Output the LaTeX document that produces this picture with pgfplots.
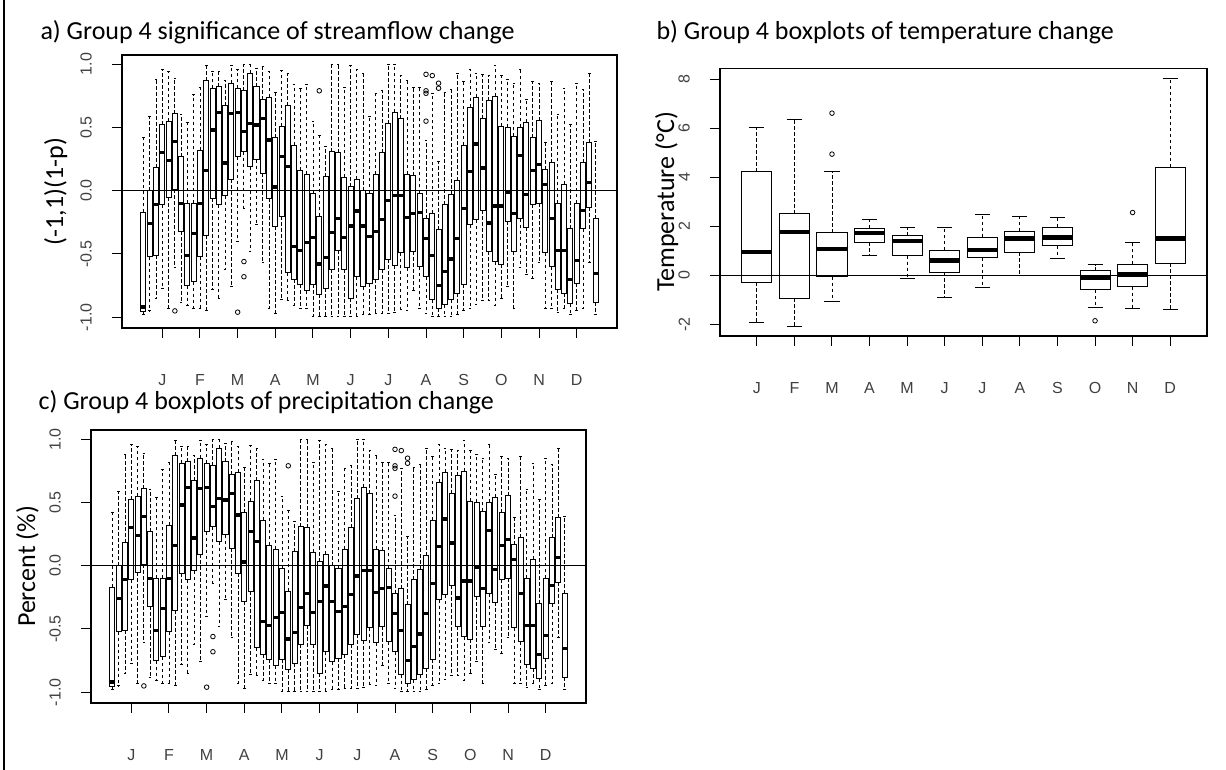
\documentclass[border=0pt]{standalone}
\usepackage{fontspec}
\setmainfont{Carlito}
\newfontfamily\tickfont{Liberation Sans}
\usepackage{pgfplots}
\pgfplotsset{compat=1.18}
\usepgfplotslibrary{statistics}

\tikzset{
  rwhisker/.style={line width=0.9bp, dash pattern=on 3.5bp off 2.5bp},
  rcap/.style={line width=0.9bp, solid},
}
\pgfplotsset{
  boxplot/draw direction=y,
  boxplot/draw/lower whisker/.code={%
    \draw[rwhisker] (boxplot cs:\pgfplotsboxplotvalue{lower quartile}) -- (boxplot cs:\pgfplotsboxplotvalue{lower whisker});
    \draw[rcap] (boxplot whisker cs:\pgfplotsboxplotvalue{lower whisker},0) -- (boxplot whisker cs:\pgfplotsboxplotvalue{lower whisker},1);
  },
  boxplot/draw/upper whisker/.code={%
    \draw[rwhisker] (boxplot cs:\pgfplotsboxplotvalue{upper quartile}) -- (boxplot cs:\pgfplotsboxplotvalue{upper whisker});
    \draw[rcap] (boxplot whisker cs:\pgfplotsboxplotvalue{upper whisker},0) -- (boxplot whisker cs:\pgfplotsboxplotvalue{upper whisker},1);
  },
  rbox/.style={
    scale only axis,
    anchor=south west,
    axis line style={line width=1.1bp},
    tick pos=left,
    tick align=outside,
    major tick length=10bp,
    tick style={line width=1bp, black},
    ticklabel style={font=\tickfont\fontsize{16bp}{16bp}\selectfont, text=black!75, inner sep=0pt},
    yticklabel style={rotate=90, anchor=south},
    xticklabel style={anchor=north},
    yticklabel shift=20bp,
    xticklabel shift=36bp,
    boxplot/draw direction=y,
    boxplot/every box/.style={draw=black, line width=1bp},
  },
}

% one box: position, lower whisker, lower quartile, median, upper quartile, upper whisker
\newcommand{\rb}[6]{\addplot[black, line width=1bp, mark=o, mark size=2.3bp, mark options={solid, line width=0.8bp},
  boxplot prepared={draw direction=y, draw position=#1, lower whisker=#2, lower quartile=#3, median=#4, upper quartile=#5, upper whisker=#6, box extend=0.8, whisker extend=0.4}] coordinates {};}
% same with outliers (7th argument: coordinates)
\newcommand{\rbo}[7]{\addplot[black, line width=1bp, mark=o, mark size=2.3bp, mark options={solid, line width=0.8bp},
  boxplot prepared={draw direction=y, draw position=#1, lower whisker=#2, lower quartile=#3, median=#4, upper quartile=#5, upper whisker=#6, box extend=0.8, whisker extend=0.4}] coordinates {#7};}

\newcommand{\streamboxes}{%
\rb{1}{-0.98}{-0.955}{-0.92}{-0.17}{0.42}
\rb{2}{-0.95}{-0.52}{-0.26}{0.00}{0.59}
\rb{3}{-0.85}{-0.51}{-0.11}{0.18}{0.88}
\rb{4}{-0.77}{-0.11}{0.30}{0.52}{0.96}
\rb{5}{-0.93}{-0.05}{0.24}{0.55}{0.94}
\rbo{6}{-0.61}{0.01}{0.39}{0.61}{0.89}{(0,-0.95)}
\rb{7}{-0.88}{-0.32}{-0.10}{0.27}{0.60}
\rb{8}{-0.91}{-0.75}{-0.51}{-0.10}{0.54}
\rb{9}{-0.93}{-0.72}{-0.34}{-0.10}{0.76}
\rb{10}{-0.93}{-0.52}{-0.10}{0.32}{0.82}
\rb{11}{-0.95}{-0.35}{0.16}{0.87}{0.99}
\rb{12}{-0.78}{-0.06}{0.48}{0.81}{0.94}
\rb{13}{-0.85}{-0.11}{0.62}{0.82}{0.94}
\rb{14}{-0.62}{-0.04}{0.22}{0.67}{0.87}
\rb{15}{-0.76}{0.09}{0.61}{0.85}{0.99}
\rbo{16}{-0.40}{0.27}{0.62}{0.81}{0.955}{(0,-0.96)}
\rbo{17}{-0.14}{0.31}{0.47}{0.79}{1.00}{(0,-0.56) (0,-0.68)}
\rb{18}{-0.48}{0.19}{0.53}{0.93}{0.995}
\rb{19}{-0.27}{0.245}{0.52}{0.82}{0.97}
\rb{20}{-0.57}{0.14}{0.57}{0.72}{0.98}
\rb{21}{-0.93}{-0.06}{0.40}{0.74}{0.94}
\rb{22}{-0.97}{-0.28}{0.03}{0.42}{0.78}
\rb{23}{-0.86}{-0.20}{0.27}{0.51}{0.95}
\rb{24}{-0.87}{-0.65}{0.19}{0.67}{0.93}
\rb{25}{-0.91}{-0.70}{-0.44}{0.36}{0.84}
\rb{26}{-0.93}{-0.74}{-0.47}{0.16}{0.81}
\rb{27}{-0.93}{-0.79}{-0.41}{0.13}{0.84}
\rb{28}{-0.99}{-0.74}{-0.37}{-0.02}{0.55}
\rbo{29}{-0.99}{-0.82}{-0.58}{-0.20}{0.44}{(0,0.79)}
\rb{30}{-0.99}{-0.77}{-0.53}{0.11}{0.35}
\rb{31}{-0.99}{-0.62}{-0.33}{0.31}{1.00}
\rb{32}{-0.99}{-0.47}{-0.22}{0.30}{1.00}
\rb{33}{-0.99}{-0.62}{-0.37}{0.105}{0.82}
\rb{34}{-0.99}{-0.85}{-0.28}{0.03}{0.99}
\rb{35}{-0.99}{-0.68}{-0.16}{0.09}{0.955}
\rb{36}{-0.98}{-0.76}{-0.28}{0.00}{0.93}
\rb{37}{-0.98}{-0.73}{-0.36}{-0.02}{0.59}
\rb{38}{-0.97}{-0.70}{-0.32}{0.13}{0.77}
\rb{39}{-0.97}{-0.62}{-0.23}{0.30}{0.79}
\rb{40}{-0.97}{-0.54}{-0.08}{0.53}{1.00}
\rb{41}{-0.96}{-0.59}{-0.04}{0.62}{1.00}
\rb{42}{-0.94}{-0.49}{-0.04}{0.57}{0.91}
\rb{43}{-0.95}{-0.61}{-0.21}{0.13}{0.87}
\rb{44}{-0.79}{-0.48}{-0.18}{0.12}{0.82}
\rb{45}{-0.93}{-0.60}{-0.17}{-0.02}{0.82}
\rbo{46}{-0.97}{-0.68}{-0.38}{-0.22}{0.40}{(0,0.92) (0,0.79) (0,0.77) (0,0.55)}
\rbo{47}{-0.99}{-0.86}{-0.51}{-0.18}{0.77}{(0,0.91)}
\rbo{48}{-0.99}{-0.93}{-0.75}{-0.31}{0.23}{(0,0.85) (0,0.81)}
\rb{49}{-0.99}{-0.90}{-0.64}{-0.11}{0.78}
\rb{50}{-0.99}{-0.86}{-0.54}{-0.03}{0.80}
\rb{51}{-0.98}{-0.81}{-0.38}{0.08}{0.93}
\rb{52}{-0.95}{-0.74}{-0.14}{0.36}{0.86}
\rb{53}{-0.93}{-0.27}{0.15}{0.66}{0.955}
\rb{54}{-0.90}{-0.23}{0.37}{0.74}{0.93}
\rb{55}{-0.87}{-0.155}{0.18}{0.57}{0.92}
\rb{56}{-0.87}{-0.48}{-0.255}{0.71}{0.91}
\rb{57}{-0.91}{-0.56}{-0.12}{0.745}{0.99}
\rb{58}{-0.85}{-0.58}{-0.12}{0.51}{0.91}
\rb{59}{-0.76}{-0.24}{-0.01}{0.50}{0.88}
\rb{60}{-0.93}{-0.48}{-0.18}{0.43}{0.85}
\rb{61}{-0.61}{-0.22}{0.28}{0.50}{0.96}
\rb{62}{-0.66}{-0.29}{-0.03}{0.54}{0.72}
\rb{63}{-0.69}{-0.105}{0.16}{0.42}{0.86}
\rb{64}{-0.57}{-0.10}{0.205}{0.555}{0.845}
\rb{65}{-0.93}{-0.49}{0.05}{0.165}{0.38}
\rb{66}{-0.93}{-0.60}{-0.22}{0.22}{0.86}
\rb{67}{-0.96}{-0.78}{-0.47}{-0.10}{0.60}
\rb{68}{-0.93}{-0.81}{-0.47}{0.05}{0.805}
\rb{69}{-0.98}{-0.895}{-0.70}{-0.30}{0.52}
\rb{70}{-0.95}{-0.73}{-0.55}{-0.10}{0.85}
\rb{71}{-0.93}{-0.30}{-0.155}{0.22}{0.80}
\rb{72}{-0.57}{-0.13}{0.065}{0.38}{0.93}
\rb{73}{-0.98}{-0.88}{-0.655}{-0.22}{0.39}
\addplot[black, line width=1bp, forget plot] coordinates {(-2.42,0) (76.42,0)};
}

\pgfplotsset{
  streamaxis/.style={
    rbox, width=495bp, height=273bp,
    xmin=-2.42, xmax=76.42, ymin=-1.085, ymax=1.073,
    xtick={4,10,16,22,28,34,40,46,52,58,64,70},
    xticklabels={J,F,M,A,M,J,J,A,S,O,N,D},
    ytick={-1,-0.5,0,0.5,1},
    yticklabels={-1.0,-0.5,0.0,0.5,1.0},
    boxplot/every median/.style={line width=3.3bp},
  },
}

\begin{document}
\begin{tikzpicture}[x=1bp,y=1bp]
\useasboundingbox (0,0) rectangle (1226,770);
\draw[line width=1.5bp] (4,0) -- (4,770);

% a) streamflow
\begin{axis}[streamaxis, at={(122bp,442bp)}]
\streamboxes
\end{axis}

% c) precipitation
\begin{axis}[streamaxis, at={(91bp,67bp)}]
\streamboxes
\end{axis}

% b) temperature
\begin{axis}[rbox, at={(720bp,434bp)}, width=487bp, height=267.5bp,
  xmin=0.02, xmax=12.98, ymin=-2.47, ymax=8.43,
  xtick={1,2,3,4,5,6,7,8,9,10,11,12},
  xticklabels={J,F,M,A,M,J,J,A,S,O,N,D},
  ytick={-2,0,2,4,6,8},
  yticklabels={-2,0,2,4,6,8},
  boxplot/every median/.style={line width=4.5bp}]
\rb{1}{-1.90}{-0.29}{0.95}{4.23}{6.03}
\rb{2}{-2.07}{-0.94}{1.77}{2.52}{6.37}
\rbo{3}{-1.05}{-0.05}{1.07}{1.74}{4.23}{(0,4.94) (0,6.61)}
\rb{4}{0.80}{1.35}{1.73}{1.92}{2.27}
\rb{5}{-0.14}{0.80}{1.40}{1.62}{1.97}
\rb{6}{-0.90}{0.12}{0.60}{1.03}{1.97}
\rb{7}{-0.49}{0.71}{1.03}{1.56}{2.48}
\rb{8}{0.01}{0.94}{1.50}{1.80}{2.42}
\rb{9}{0.68}{1.21}{1.54}{1.97}{2.37}
\rbo{10}{-1.31}{-0.59}{-0.11}{0.18}{0.44}{(0,-1.85)}
\rbo{11}{-1.35}{-0.46}{0.03}{0.45}{1.35}{(0,2.56)}
\rb{12}{-1.39}{0.49}{1.50}{4.41}{8.03}
\addplot[black, line width=1bp, forget plot] coordinates {(0.02,0) (12.98,0)};
\end{axis}

\node[anchor=base west, font=\fontsize{26bp}{30bp}\selectfont] at (37,730) {a) Group 4 significance of streamflow change};
\node[anchor=base west, font=\fontsize{26bp}{30bp}\selectfont] at (653,730) {b) Group 4 boxplots of temperature change};
\node[anchor=base west, font=\fontsize{26bp}{30bp}\selectfont] at (35,360) {c) Group 4 boxplots of precipitation change};

\node[rotate=90, anchor=base, font=\fontsize{26bp}{30bp}\selectfont] at (63,578.5) {(-1,1)(1-p)};
\node[rotate=90, anchor=base, font=\fontsize{26bp}{30bp}\selectfont] at (674,568) {Temperature (°C)};
\node[rotate=90, anchor=base, font=\fontsize{26bp}{30bp}\selectfont] at (35,203.5) {Percent (\%)};
\end{tikzpicture}
\end{document}
